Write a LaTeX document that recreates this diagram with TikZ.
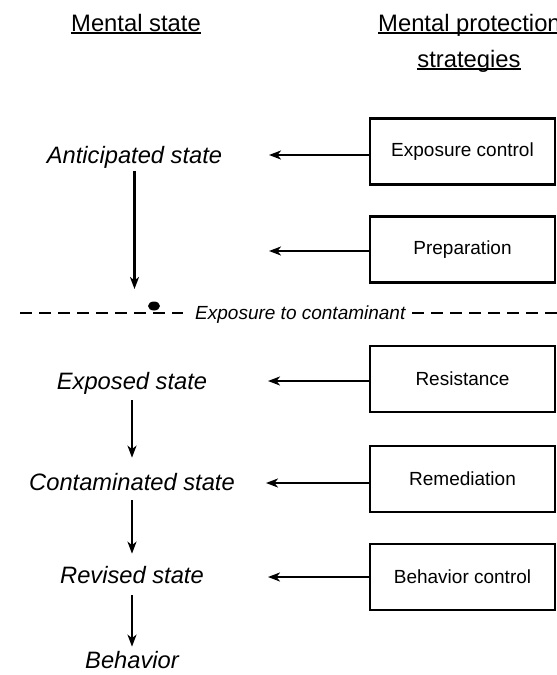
\documentclass[tikz,border=0pt]{standalone}
\usepackage{fontspec}
\setmainfont{Liberation Sans}
\usetikzlibrary{arrows.meta}
\begin{document}
\begin{tikzpicture}[x=1pt,y=-1pt,
  statelbl/.style={font=\fontsize{23.7}{28}\selectfont\itshape, inner sep=0pt, anchor=base},
  hdr/.style={font=\fontsize{23.8}{28}\selectfont, inner sep=0pt, anchor=base},
  uline/.style={line width=1.4pt},
  stratbox/.style={draw, line width=2.2pt, minimum width=185pt, minimum height=66pt, inner sep=0pt, font=\fontsize{19}{22}\selectfont},
  arr/.style={line width=2.2pt, -{Stealth[length=12pt,width=9pt,inset=3.5pt]}},
  dashln/.style={line width=2pt, dash pattern=on 12pt off 7pt}]
\useasboundingbox (0,0) rectangle (557,675);

% headers
\node[hdr] (h1) at (136,31) {Mental state};
\draw[uline] ([yshift=-2pt]h1.base west) -- ([yshift=-2pt]h1.base east);
\node[hdr, anchor=base west] (h2) at (378,31) {Mental protection};
\draw[uline] ([yshift=-2pt]h2.base west) -- ([yshift=-2pt]h2.base east);
\node[hdr] (h3) at (469,67) {strategies};
\draw[uline] ([yshift=-2pt]h3.base west) -- ([yshift=-2pt]h3.base east);

% mental states
\node[statelbl] (ant) at (134.5,163) {Anticipated state};
\node[statelbl] (exp) at (132,389) {Exposed state};
\node[statelbl] (con) at (132,490) {Contaminated state};
\node[statelbl] (rev) at (132,583) {Revised state};
\node[statelbl] (beh) at (132,668) {Behavior};

% strategies
\node[stratbox] (ec) at (462.5,151.5) {Exposure control};
\node[stratbox] (pr) at (462.5,249.5) {Preparation};
\node[stratbox] (rs) at (462.5,379) {Resistance};
\node[stratbox] (rm) at (462.5,479) {Remediation};
\node[stratbox] (bc) at (462.5,577) {Behavior control};

% arrow tips on the left
\coordinate (t1) at (269,155);
\coordinate (t2) at (269,251);
\coordinate (t3) at (268,381);
\coordinate (t4) at (266,483);
\coordinate (t5) at (268,577);
\draw[arr] (ec.west |- t1) -- (t1);
\draw[arr] (pr.west |- t2) -- (t2);
\draw[arr] (rs.west |- t3) -- (t3);
\draw[arr] (rm.west |- t4) -- (t4);
\draw[arr] (bc.west |- t5) -- (t5);

% vertical flow
\coordinate (a1e) at (134.5,289);
\draw[arr] ([yshift=-3pt]ant.south) -- (a1e);
\draw[arr] ([yshift=-6pt]exp.south) -- ([yshift=15pt]con.north);
\draw[arr] ([yshift=-10pt]con.south) -- ([yshift=12pt]rev.north);
\draw[arr] ([yshift=-12pt]rev.south) -- ([yshift=4pt]beh.north);

% exposure line
\coordinate (dl1) at (20,313);
\coordinate (dl2) at (183,313);
\coordinate (dr1) at (412,313);
\coordinate (dr2) at (560,313);
\node[font=\fontsize{19}{22}\selectfont\itshape, inner sep=0pt, anchor=base west] (ex) at (195,319) {Exposure to contaminant};
\draw[dashln] (dl1) -- (dl2);
\draw[dashln] (dr1) -- (dr2);
\fill (154,306) ellipse [x radius=6pt, y radius=4.5pt];
\end{tikzpicture}
\end{document}
